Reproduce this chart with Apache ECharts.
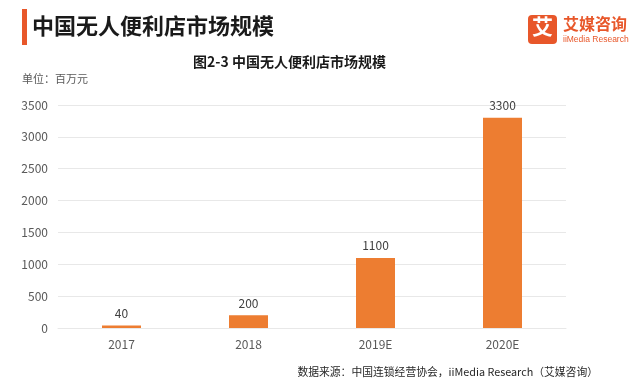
<!DOCTYPE html>
<html><head><meta charset="utf-8">
<script src="https://cdn.jsdelivr.net/npm/echarts@6/dist/echarts.min.js"></script>
<style>html,body{margin:0;padding:0;background:#fff}#c{width:640px;height:385px}</style>
</head><body><div id="c"></div>
<script>
const categories = ['2017', '2018', '2019E', '2020E'];
const values = [40, 200, 1100, 3300];
const yTicks = [0, 500, 1000, 1500, 2000, 2500, 3000, 3500];

const F = "'Noto Sans CJK SC', 'Noto Sans', sans-serif";
const chart = echarts.init(document.getElementById('c'));
chart.setOption({
  backgroundColor: '#fff',
  animation: false,
  grid: { left: 58, right: 74, top: 105, bottom: 57 },
  xAxis: {
    type: 'category', data: categories,
    axisLine: { show: true, lineStyle: { color: '#e8e8e8' } },
    axisTick: { show: false },
    axisLabel: { color: '#595959', fontSize: 12, fontFamily: F, margin: 10 }
  },
  yAxis: {
    type: 'value', min: yTicks[0], max: yTicks[yTicks.length - 1], interval: 500,
    axisLine: { show: false }, axisTick: { show: false },
    axisLabel: { color: '#595959', fontSize: 12, fontFamily: F, margin: 10, formatter: v => String(v) },
    splitLine: { lineStyle: { color: '#e8e8e8' } }
  },
  series: [{
    type: 'bar', data: values, barWidth: 39,
    itemStyle: { color: '#ED7D31' },
    label: { show: true, position: 'top', color: '#404040', fontSize: 12, fontFamily: F, distance: 6 }
  }],
  graphic: [
    { type: 'rect', left: 22, top: 9, shape: { width: 5, height: 36 }, style: { fill: '#E8572A' } },
    { type: 'text', left: 32, top: 15, style: { text: '中国无人便利店市场规模', font: "bold 22px 'Noto Sans CJK SC'", fill: '#1a1a1a' } },
    { type: 'rect', left: 528, top: 15, shape: { width: 29, height: 29, r: 4 }, style: { fill: '#E8572A' } },
    { type: 'text', left: 532, top: 16, style: { text: '艾', font: "bold 21px 'Noto Sans CJK SC'", fill: '#fff' } },
    { type: 'text', left: 563, top: 16, style: { text: '艾媒咨询', font: "bold 16px 'Noto Sans CJK SC'", fill: '#E8572A' } },
    { type: 'text', left: 563, top: 35, style: { text: 'iiMedia Research', font: "8.5px 'Liberation Sans', sans-serif", fill: '#E8572A' } },
    { type: 'text', left: 193, top: 55, style: { text: '图2-3 中国无人便利店市场规模', font: "bold 14px 'Noto Sans CJK SC'", fill: '#1a1a1a' } },
    { type: 'text', left: 22, top: 73, style: { text: '单位：百万元', font: "11px 'Noto Sans CJK SC'", fill: '#595959' } },
    { type: 'text', right: 42, top: 367, style: { text: '数据来源：中国连锁经营协会，iiMedia Research（艾媒咨询）', font: "10.8px 'Noto Sans CJK SC'", fill: '#262626' } }
  ]
});
</script></body></html>
